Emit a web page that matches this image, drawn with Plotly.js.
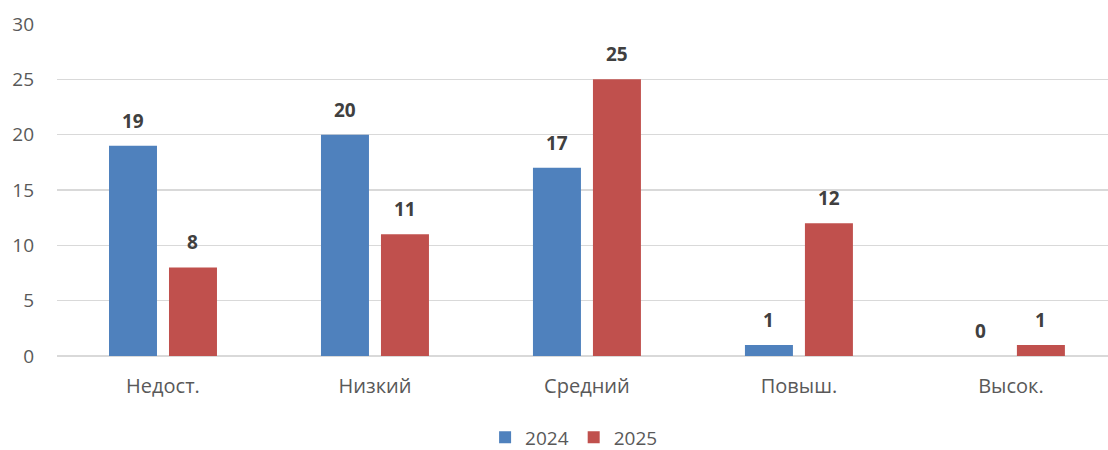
<!DOCTYPE html>
<html><head><meta charset="utf-8">
<script src="https://cdn.plot.ly/plotly-3.0.1.min.js"></script>
<style>html,body{margin:0;padding:0;background:#fff}#chart{width:1108px;height:450px}</style>
</head><body><div id="chart"></div>
<script>
const categories = ["Недост.", "Низкий", "Средний", "Повыш.", "Высок."];
const series2024 = [19, 20, 17, 1, 0];
const series2025 = [8, 11, 25, 12, 1];
const seriesNames = ["2024", "2025"];
const yTicks = [0, 5, 10, 15, 20, 25, 30];

const FONT = "Open Sans, Noto Sans, Liberation Sans, sans-serif";
const colors = ["#4F81BD", "#C0504D"];
const allSeries = [series2024, series2025];

const traces = allSeries.map((vals, i) => ({
  type: "bar", name: seriesNames[i], x: categories, y: vals,
  marker: {color: colors[i]}, hoverinfo: "skip"
}));

const annotations = [];
allSeries.forEach((vals, i) => {
  vals.forEach((v, j) => {
    annotations.push({
      x: categories[j], y: v, xref: "x", yref: "y",
      text: String(v), showarrow: false,
      xshift: i === 0 ? -30 : 30, yshift: 25, yanchor: "middle",
      font: {family: FONT, size: 19, color: "#404040", weight: "bold"}
    });
  });
});

const layout = {
  width: 1108, height: 450,
  margin: {l: 57, r: 0, t: 24, b: 94, autoexpand: false},
  paper_bgcolor: "#fff", plot_bgcolor: "#fff",
  font: {family: FONT, size: 19, color: "#595959"},
  barmode: "group", bargap: 0.434, bargroupgap: 0.2,
  showlegend: true,
  legend: {orientation: "h", x: 0.492, xanchor: "center", y: -0.245, yanchor: "middle",
           font: {family: FONT, size: 19, color: "#595959"}, itemwidth: 30, traceorder: "normal"},
  xaxis: {range: [-0.5, 4.458], showgrid: false, showline: false, ticks: "", ticklabelstandoff: 16, automargin: false,
          tickfont: {family: FONT, size: 20, color: "#595959"}, fixedrange: true},
  yaxis: {range: [0, 30], tickvals: yTicks, showgrid: true, gridcolor: "#D9D9D9", gridwidth: 1.3,
          zeroline: true, zerolinecolor: "#D9D9D9", zerolinewidth: 1.3, showline: false,
          ticks: "", ticklabelstandoff: 22, automargin: false,
          tickfont: {family: FONT, size: 19, color: "#595959"}, fixedrange: true},
  annotations: annotations
};

Plotly.newPlot("chart", traces, layout, {displayModeBar: false, staticPlot: true});
</script></body></html>
